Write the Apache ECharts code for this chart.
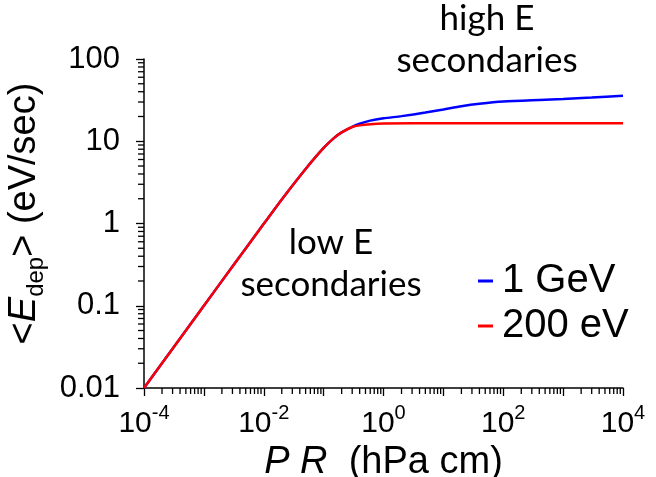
<!DOCTYPE html>
<html>
<head>
<meta charset="utf-8">
<script src="https://cdn.jsdelivr.net/npm/echarts@6/dist/echarts.min.js"></script>
<style>
  html, body { margin: 0; padding: 0; background: #fff; }
  #chart { width: 656px; height: 477px; }
</style>
</head>
<body>
<div id="chart"></div>
<script>
// Deposited energy rate vs pressure x range, for two primary energies
const prHighE = [1e-4, 3e-4, 1e-3, 3e-3, 0.01, 0.02, 0.05, 0.1, 0.15, 0.2, 0.3, 0.4, 0.6, 1, 2, 5, 10, 20, 40, 100, 400, 1000, 3000, 1e4];
const eHighE  = [0.01, 0.03, 0.1, 0.3, 0.99, 1.96, 4.6, 8.3, 11.0, 12.8, 15.0, 16.3, 17.8, 19.0, 20.2, 22.3, 24.3, 26.6, 28.5, 30.4, 31.8, 32.6, 34.0, 35.8];

const prLowE = [1e-4, 3e-4, 1e-3, 3e-3, 0.01, 0.02, 0.05, 0.1, 0.15, 0.2, 0.3, 0.4, 0.6, 1, 3, 10, 100, 1000, 1e4];
const eLowE  = [0.01, 0.03, 0.1, 0.3, 0.99, 1.96, 4.6, 8.3, 11.0, 12.8, 14.9, 15.6, 16.1, 16.4, 16.5, 16.5, 16.5, 16.5, 16.5];

const seriesNames = ['1 GeV', '200 eV'];
const seriesColors = ['#0000ff', '#ff0000'];

const xRange = [1e-4, 1e4];
const yRange = [0.01, 100];
const yTickLabels = ['0.01', '0.1', '1', '10', '100'];

const notes = [
  { lines: ['high E', 'secondaries'], at: [487, 19] },
  { lines: ['low E', 'secondaries'], at: [331, 243] }
];

// minor ticks 2..9 within each decade
function minorValues(lo, hi) {
  const out = [];
  for (let e = Math.round(Math.log10(lo)); e < Math.round(Math.log10(hi)); e++) {
    for (let m = 2; m <= 9; m++) out.push(m * Math.pow(10, e));
  }
  return out;
}
const xMinor = minorValues(xRange[0], xRange[1]).map(v => [v, yRange[0]]);
const yMinor = minorValues(yRange[0], yRange[1]).map(v => [xRange[0], v]);

const zip = (xs, ys) => xs.map((x, i) => [x, ys[i]]);

const AX = '#000';
const SANS = 'Liberation Sans, Arial, sans-serif';

const chart = echarts.init(document.getElementById('chart'), null, { renderer: 'canvas' });

function tickSeries(data, dir) {
  return {
    type: 'custom',
    silent: true,
    clip: false,
    z: 5,
    data: data,
    renderItem: function (params, api) {
      const p = api.coord([api.value(0), api.value(1)]);
      const len = 6;
      const shape = dir === 'x'
        ? { x1: p[0], y1: p[1], x2: p[0], y2: p[1] + len }
        : { x1: p[0], y1: p[1], x2: p[0] - len, y2: p[1] };
      return { type: 'line', shape: shape, style: { stroke: AX, lineWidth: 1.3 } };
    }
  };
}

const graphics = [];
notes.forEach(n => {
  n.lines.forEach((t, i) => {
    graphics.push({
      type: 'text',
      style: {
        text: t, x: n.at[0], y: n.at[1] + i * 42,
        align: 'center', verticalAlign: 'middle',
        fontSize: 35, fontFamily: 'Lato', fill: '#000'
      }
    });
  });
});

chart.setOption({
  animation: false,
  backgroundColor: '#fff',
  grid: { left: 144, right: 33, top: 59, bottom: 89, containLabel: false, outerBoundsMode: 'none' },
  legend: {
    orient: 'vertical',
    left: 473,
    top: 255,
    itemWidth: 15,
    itemHeight: 3,
    itemGap: 3,
    icon: 'rect',
    data: seriesNames,
    textStyle: { fontSize: 40, fontFamily: SANS, color: '#000', lineHeight: 42, padding: [0, 0, 0, 4] }
  },
  xAxis: {
    type: 'log',
    logBase: 10,
    min: xRange[0],
    max: xRange[1],
    splitLine: { show: false },
    axisLine: { lineStyle: { color: AX, width: 1.5 } },
    axisTick: { length: 8, lineStyle: { color: AX, width: 1.3 } },
    axisLabel: {
      margin: 15,
      formatter: function (v) {
        const e = Math.round(Math.log10(v));
        if (e % 2 !== 0) return '';
        return '{b|10}{s|' + e + '}';
      },
      rich: {
        b: { fontSize: 30, fontFamily: SANS, color: '#000', lineHeight: 36, verticalAlign: 'bottom' },
        s: { fontSize: 20, fontFamily: SANS, color: '#000', lineHeight: 36, verticalAlign: 'top' }
      }
    },
    name: '{i|P R}{n|  (hPa cm)}',
    nameLocation: 'middle',
    nameGap: 52,
    nameTextStyle: {
      rich: {
        i: { fontSize: 38, fontFamily: SANS, fontStyle: 'italic', color: '#000' },
        n: { fontSize: 38, fontFamily: SANS, color: '#000' }
      }
    }
  },
  yAxis: {
    type: 'log',
    logBase: 10,
    min: yRange[0],
    max: yRange[1],
    splitLine: { show: false },
    axisLine: { lineStyle: { color: AX, width: 1.5 } },
    axisTick: { length: 8, lineStyle: { color: AX, width: 1.3 } },
    axisLabel: {
      margin: 24,
      fontSize: 31,
      fontFamily: SANS,
      color: '#000',
      formatter: function (v, i) { return yTickLabels[i]; }
    },
    name: '{p|}{a|<}{i|E}{d|dep}{a|> (eV/sec)}',
    nameLocation: 'middle',
    nameGap: 74,
    nameTextStyle: {
      rich: {
        p: { width: 20, lineHeight: 48 },
        a: { fontSize: 38, fontFamily: SANS, color: '#000', lineHeight: 48, verticalAlign: 'middle' },
        i: { fontSize: 38, fontFamily: SANS, fontStyle: 'italic', color: '#000', lineHeight: 48, verticalAlign: 'middle' },
        d: { fontSize: 24, fontFamily: SANS, color: '#000', lineHeight: 48, verticalAlign: 'bottom' }
      }
    }
  },
  graphic: graphics,
  series: [
    {
      name: seriesNames[0], type: 'line', data: zip(prHighE, eHighE),
      showSymbol: false, symbol: 'none', smooth: 0.25,
      lineStyle: { color: seriesColors[0], width: 2.5 }, itemStyle: { color: seriesColors[0] }, z: 3
    },
    {
      name: seriesNames[1], type: 'line', data: zip(prLowE, eLowE),
      showSymbol: false, symbol: 'none', smooth: 0.25,
      lineStyle: { color: seriesColors[1], width: 2.5 }, itemStyle: { color: seriesColors[1] }, z: 4
    },
    tickSeries(xMinor, 'x'),
    tickSeries(yMinor, 'y')
  ]
});
</script>
</body>
</html>
